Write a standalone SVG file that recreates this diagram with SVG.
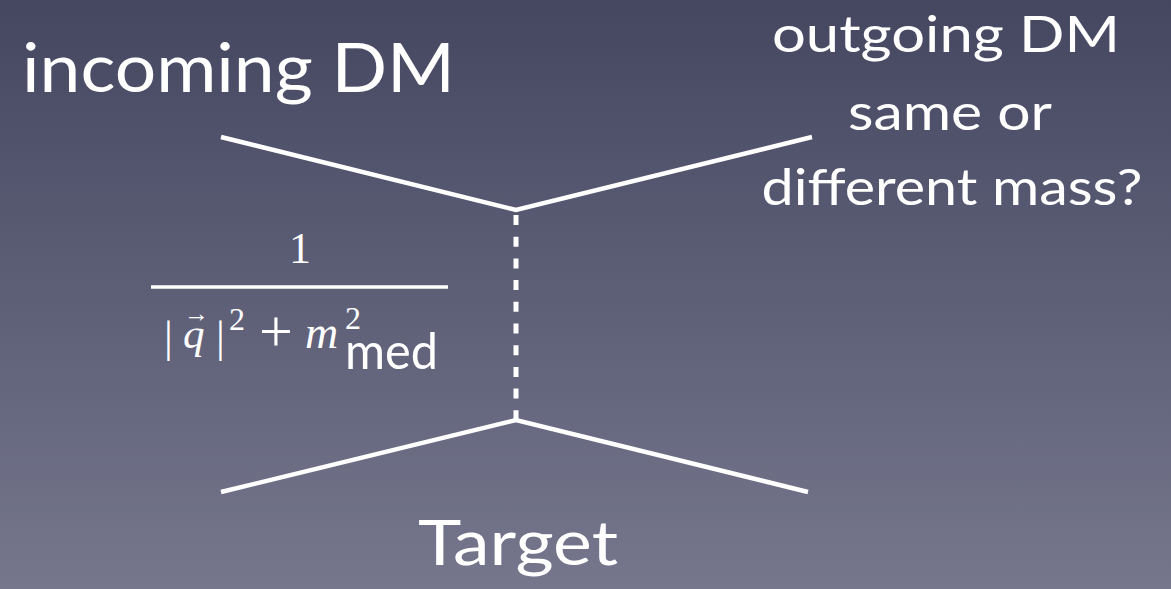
<svg xmlns="http://www.w3.org/2000/svg" width="1171" height="589" viewBox="0 0 1171 589">
  <defs>
    <linearGradient id="bg" x1="0" y1="0" x2="0" y2="1">
      <stop offset="0" stop-color="#454761"/>
      <stop offset="1" stop-color="#76778d"/>
    </linearGradient>
  </defs>
  <style>
    .lbl { font-family: "Lato", "Open Sans", "Liberation Sans", sans-serif; fill: #ffffff; }
    .math { font-family: "Liberation Serif", "DejaVu Serif", serif; fill: #ffffff; }
    .it { font-style: italic; }
    .leg { stroke: #ffffff; stroke-width: 4.5; fill: none; stroke-linecap: butt; stroke-linejoin: miter; }
    .med { stroke: #ffffff; stroke-width: 5; fill: none; stroke-dasharray: 10 11.7; }
  </style>
  <rect width="1171" height="589" fill="url(#bg)"/>

  <g id="connectors">
    <polyline class="leg" points="221,137 516,210 812,137"/>
    <line class="med" x1="516" y1="215" x2="516" y2="420"/>
    <polyline class="leg" points="221,492 516,420 808,492"/>
  </g>

  <g id="incoming">
    <text class="lbl" x="22" y="92" font-size="68" textLength="433" lengthAdjust="spacingAndGlyphs">incoming DM</text>
  </g>

  <g id="outgoing">
    <text class="lbl" x="946" y="52" font-size="51" text-anchor="middle" textLength="348" lengthAdjust="spacingAndGlyphs">outgoing DM</text>
    <text class="lbl" x="950" y="130" font-size="51" text-anchor="middle" textLength="204" lengthAdjust="spacingAndGlyphs">same or</text>
    <text class="lbl" x="952" y="205" font-size="51" text-anchor="middle" textLength="381" lengthAdjust="spacingAndGlyphs">different mass?</text>
  </g>

  <g id="target">
    <text class="lbl" x="518" y="565" font-size="62" text-anchor="middle" textLength="200" lengthAdjust="spacingAndGlyphs">Target</text>
  </g>

  <g id="propagator">
    <text class="math" x="300" y="263" font-size="44" text-anchor="middle">1</text>
    <line x1="151" y1="287" x2="448" y2="287" stroke="#ffffff" stroke-width="3.5"/>
    <text class="math" x="164" y="352" font-size="44">|</text>
    <text class="math it" x="183" y="348" font-size="43">q</text>
    <text class="math" x="184" y="322" font-size="25">→</text>
    <text class="math" x="216" y="352" font-size="44">|</text>
    <text class="math" x="229" y="330" font-size="32">2</text>
    <text class="math" x="259" y="351" font-size="60">+</text>
    <text class="math it" x="305" y="348" font-size="46">m</text>
    <text class="math" x="345" y="329" font-size="32">2</text>
    <text class="lbl" x="345" y="369" font-size="50" textLength="93" lengthAdjust="spacingAndGlyphs">med</text>
  </g>
</svg>
